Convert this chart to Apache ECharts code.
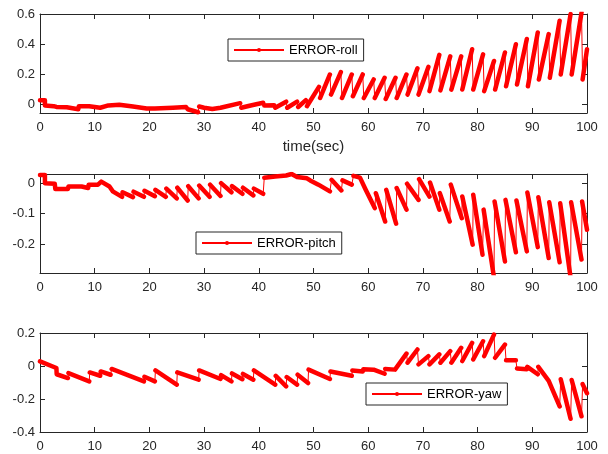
<!DOCTYPE html>
<html><head><meta charset="utf-8">
<script src="https://cdn.jsdelivr.net/npm/echarts@6/dist/echarts.min.js"></script>
<style>html,body{margin:0;padding:0;background:#fff}#c{width:608px;height:454px}</style>
</head><body><div id="c"></div>
<script>
// ---- tick labels ----
const xTicks = [0,10,20,30,40,50,60,70,80,90,100];
const rollTicks = [0,0.2,0.4,0.6];
const pitchTicks = [-0.2,-0.1,0];
const yawTicks = [-0.4,-0.2,0,0.2];
const seriesNames = ['ERROR-roll','ERROR-pitch','ERROR-yaw'];
const xLabel = 'time(sec)';

// ---- data: each stroke is a slowly varying run; strokes are joined by sudden jumps ----
const rollStrokes = [
 [[0,0.03],[0.9,0.03],[0.9,-0.005],[2.5,-0.01],[3,-0.015],[4.9,-0.017],[5,-0.03],[7,-0.03],[7.1,-0.01],[9,-0.01],[9.1,-0.02],[11,-0.02],[11.2,-0.01],[12.5,-0.005],[14.5,0],[14.6,-0.01],[17,-0.012],[17.2,-0.02],[19.5,-0.025],[21,-0.025],[24.3,-0.02],[24.4,-0.015],[26.7,-0.015],[27,-0.03],[28.9,-0.05]],
 [[29.1,-0.012],[30,-0.02],[31.5,-0.028],[33,-0.02],[36.6,0.01]],
 [[36.8,-0.02],[38.5,-0.005],[40.8,0.013]],
 [[41,-0.005],[42.8,-0.003]],
 [[43,-0.02],[45,0.02]],
 [[45.2,-0.02],[47,0.02]],
 [[47.2,-0.015],[48.6,0.03]],
 [[48.8,-0.01],[51,0.118]],
 [[51.2,0.044],[53,0.2]],
 [[53.2,0.067],[55,0.216]],
 [[55.2,0.044],[57,0.2]],
 [[57.2,0.056],[59,0.2]],
 [[59.2,0.044],[61,0.167]],
 [[61.2,0.044],[63,0.178]],
 [[63.2,0.038],[65,0.178]],
 [[65.2,0.044],[67,0.2]],
 [[67.2,0.067],[69,0.24]],
 [[69.2,0.067],[71,0.25]],
 [[71.2,0.09],[73,0.33]],
 [[73.2,0.095],[75,0.32]],
 [[75.2,0.1],[77,0.32]],
 [[77.2,0.1],[79,0.367]],
 [[79.2,0.1],[81,0.333]],
 [[81.2,0.09],[83,0.289]],
 [[83.2,0.1],[85,0.345]],
 [[85.2,0.122],[87,0.4]],
 [[87.2,0.133],[89,0.435]],
 [[89.2,0.122],[91,0.478]],
 [[91.2,0.167],[93,0.467]],
 [[93.2,0.178],[95,0.556]],
 [[95.2,0.2],[97,0.6]],
 [[97.2,0.2],[99,0.61]],
 [[99.2,0.167],[100,0.367]]
];
const pitchStrokes = [
 [[0,0.027],[0.9,0.027],[0.9,0],[2.7,-0.002],[2.8,-0.019],[5.1,-0.019],[5.2,-0.011],[7.6,-0.011],[7.7,-0.016],[8.8,-0.016],[8.9,-0.005],[10.6,-0.005],[11.2,0.005],[12.7,-0.011],[13.3,-0.027],[15,-0.045]],
 [[15.1,-0.03],[17,-0.046]],
 [[17.1,-0.028],[19,-0.045]],
 [[19.1,-0.025],[21,-0.043]],
 [[21.1,-0.022],[23,-0.045]],
 [[23.1,-0.018],[25,-0.05]],
 [[25.1,-0.015],[27,-0.057]],
 [[27.1,-0.01],[29,-0.05]],
 [[29.1,-0.008],[31,-0.045]],
 [[31.1,-0.005],[33,-0.042]],
 [[33.1,0],[35,-0.03]],
 [[35.1,-0.01],[37,-0.035]],
 [[37.1,-0.015],[39,-0.04]],
 [[39.1,-0.018],[40.8,-0.035]],
 [[41,0.018],[43,0.022],[45,0.025],[46,0.03],[47,0.02],[48.8,0.016],[49.4,0.009],[50.9,-0.005],[51.2,-0.002],[53,-0.027]],
 [[53.3,0.011],[55.1,-0.024]],
 [[55.3,0.009],[57,-0.005]],
 [[57.3,0.024],[58.5,0.018],[59.5,-0.02],[61.2,-0.082]],
 [[61.4,-0.033],[63.1,-0.126]],
 [[63.3,-0.022],[65.1,-0.133]],
 [[65.2,-0.016],[67,-0.087]],
 [[67.1,-0.002],[69.2,-0.055]],
 [[69.3,0.013],[71.2,-0.044]],
 [[71.3,0.002],[73,-0.087]],
 [[73.1,-0.033],[74.9,-0.126]],
 [[75.1,-0.005],[77.1,-0.115]],
 [[77.2,-0.044],[79.1,-0.202]],
 [[79.2,-0.038],[80.9,-0.235]],
 [[81.1,-0.087],[83,-0.31]],
 [[83.1,-0.06],[85,-0.257]],
 [[85.1,-0.055],[87,-0.227]],
 [[87.1,-0.057],[89,-0.224]],
 [[89.1,-0.031],[91,-0.21]],
 [[91.1,-0.046],[93,-0.246]],
 [[93.1,-0.063],[95,-0.26]],
 [[95.1,-0.066],[97,-0.31]],
 [[97.1,-0.063],[99,-0.251]],
 [[99.1,-0.06],[100,-0.153]]
];
const yawStrokes = [
 [[0,0.028],[3,-0.012],[3.05,-0.05],[5.1,-0.073]],
 [[5.2,-0.043],[9,-0.093]],
 [[9.1,-0.039],[11,-0.059]],
 [[11.1,-0.033],[12.9,-0.053]],
 [[13.1,-0.018],[19,-0.093]],
 [[19.1,-0.065],[21,-0.093]],
 [[21.1,-0.027],[25,-0.113]],
 [[25.1,-0.039],[29,-0.083]],
 [[29.1,-0.027],[33,-0.079]],
 [[33.1,-0.055],[35,-0.093]],
 [[35.1,-0.045],[37,-0.08]],
 [[37.1,-0.048],[39,-0.083]],
 [[39.1,-0.027],[43,-0.113]],
 [[43.1,-0.06],[45,-0.123]],
 [[45.1,-0.067],[47,-0.113]],
 [[47.1,-0.053],[49,-0.103]],
 [[49.1,-0.022],[53,-0.079]],
 [[53.1,-0.033],[57,-0.059]],
 [[57.1,-0.027],[59,-0.033],[59.1,-0.02],[61,-0.022],[63,-0.047]],
 [[63.1,-0.018],[64.9,-0.022],[67,0.075]],
 [[67.2,0.02],[69,0.1]],
 [[69.2,0.01],[71,0.06]],
 [[71.2,0.01],[73,0.07]],
 [[73.2,0.02],[75,0.09]],
 [[75.2,0.02],[77,0.11]],
 [[77.2,0.03],[79,0.14]],
 [[79.2,0.04],[81,0.15]],
 [[81.2,0.06],[83,0.19]],
 [[83.2,0.05],[85,0.13]],
 [[85.2,0.035],[87,0.035]],
 [[87.2,-0.015],[89,-0.02],[89.1,-0.005],[91,-0.05]],
 [[91.1,-0.005],[93,-0.09],[95,-0.245]],
 [[95.2,-0.08],[97,-0.32]],
 [[97.2,-0.085],[99,-0.305]],
 [[99.2,-0.11],[100,-0.165]]
];

// ---- styling ----
const AX = '#262626';
const RED = '#ff0000';
const FONT = '"Liberation Sans", Arial, Helvetica, sans-serif';

function thinData(strokes){ const out=[]; strokes.forEach(s=>s.forEach(p=>out.push(p))); return out; }
function thickData(strokes){ const out=[]; strokes.forEach((s,i)=>{ if(i) out.push([s[0][0],'-']); s.forEach(p=>out.push(p)); }); return out; }

const grids = [
  {left:40, right:21, top:14, height:99},
  {left:40, right:21, top:174, height:99},
  {left:40, right:21, top:333, height:99}
];
const yRanges = [[-0.055,0.6],[-0.295,0.03],[-0.4,0.2]];
const yTickSets = [rollTicks, pitchTicks, yawTicks];
const strokeSets = [rollStrokes, pitchStrokes, yawStrokes];
const legendPos = [[228,39],[196,232],[366,383]];

const xAxis=[], yAxis=[], series=[], legend=[];
grids.forEach((g,i)=>{
  const tick = {show:true, inside:true, length:5, lineStyle:{color:AX, width:1}};
  const line = {show:true, onZero:false, lineStyle:{color:AX, width:1}};
  xAxis.push({gridIndex:i, type:'value', position:'bottom', min:xTicks[0], max:xTicks[xTicks.length-1], interval:10,
    axisLine:line, axisTick:tick, splitLine:{show:false},
    axisLabel:{show:true, color:AX, fontSize:13, fontFamily:FONT, margin:8},
    name: i===0 ? xLabel : '', nameLocation:'middle', nameGap:26,
    nameTextStyle:{color:AX, fontSize:15, fontFamily:FONT}});
  xAxis.push({gridIndex:i, type:'value', position:'top', min:xTicks[0], max:xTicks[xTicks.length-1], interval:10,
    axisLine:line, axisTick:tick, splitLine:{show:false}, axisLabel:{show:false}});
  const yt = yTickSets[i];
  yAxis.push({gridIndex:i, type:'value', position:'left', min:yRanges[i][0], max:yRanges[i][1],
    axisLine:line, axisTick:Object.assign({customValues:yt}, tick), splitLine:{show:false},
    axisLabel:{show:true, customValues:yt, color:AX, fontSize:13, fontFamily:FONT, margin:5,
      formatter:v=>String(Math.round(v*10)/10)}});
  yAxis.push({gridIndex:i, type:'value', position:'right', min:yRanges[i][0], max:yRanges[i][1],
    axisLine:line, axisTick:Object.assign({customValues:yt}, tick), splitLine:{show:false}, axisLabel:{show:false}});
  series.push({name:seriesNames[i], type:'line', xAxisIndex:2*i, yAxisIndex:2*i,
    data:thinData(strokeSets[i]), symbol:'circle', symbolSize:4, showSymbol:false, clip:true,
    lineStyle:{color:RED, width:1}, itemStyle:{color:RED}, silent:true, z:2});
  series.push({name:seriesNames[i]+'-thick', type:'line', xAxisIndex:2*i, yAxisIndex:2*i,
    data:thickData(strokeSets[i]), symbol:'none', showSymbol:false, clip:true, connectNulls:false,
    lineStyle:{color:RED, width:4.5, cap:'round', join:'round'}, itemStyle:{color:RED}, silent:true, z:3});
  legend.push({data:[seriesNames[i]], left:legendPos[i][0], top:legendPos[i][1], orient:'horizontal',
    backgroundColor:'#fff', borderColor:AX, borderWidth:1, borderRadius:0, padding:[4.5,6,4.5,5],
    itemWidth:50, itemHeight:5, selectedMode:false,
    textStyle:{fontSize:13, color:'#000', fontFamily:FONT}});
});

const chart = echarts.init(document.getElementById('c'), null, {renderer:'canvas'});
chart.setOption({animation:false, backgroundColor:'#fff', grid:grids, xAxis, yAxis, series, legend});
</script></body></html>
